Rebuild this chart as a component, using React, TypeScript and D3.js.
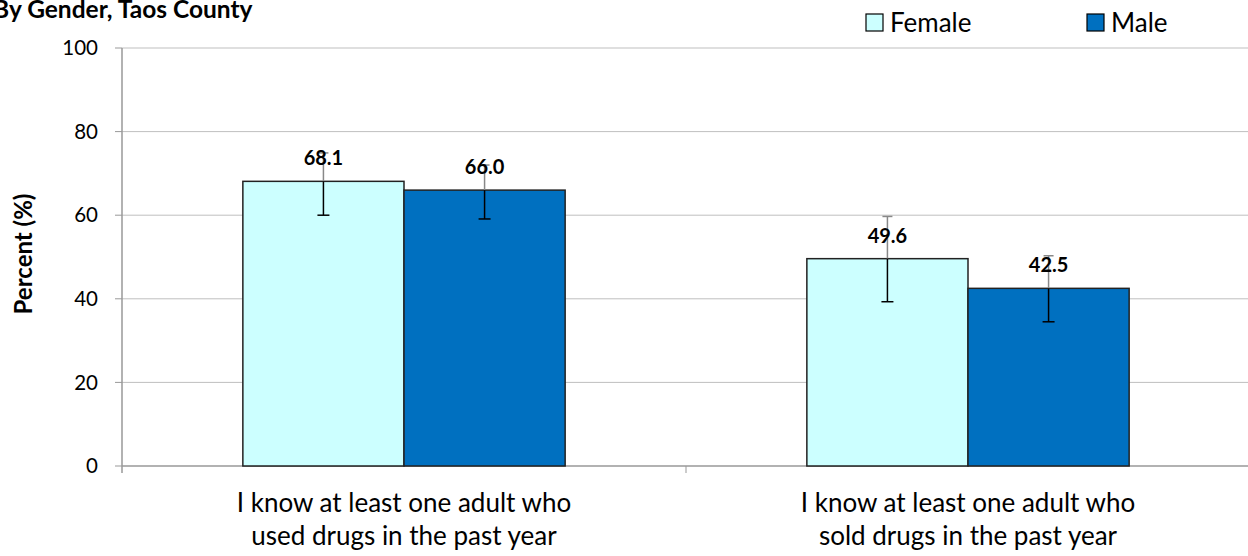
import React from "react";
import * as d3 from "d3";

const categories = [
  ["I know at least one adult who", "used drugs in the past year"],
  ["I know at least one adult who", "sold drugs in the past year"],
];
const seriesNames = ["Female", "Male"];
const seriesColors = ["#ccffff", "#0070c0"];
const femaleValues = [68.1, 49.6];
const maleValues = [66.0, 42.5];
const femaleLow = [60.0, 39.3];
const femaleHigh = [74.9, 59.7];
const maleLow = [59.1, 34.5];
const maleHigh = [72.0, 50.3];
const yTicks = [0, 20, 40, 60, 80, 100];
const title = "By Gender, Taos County";
const yTitle = "Percent (%)";

const W = 1248;
const H = 556;
const FONT = "Lato, 'Open Sans', sans-serif";

export default function App() {
  const left = 122;
  const right = 1250;
  const top = 48;
  const bottom = 466;
  const y = d3.scaleLinear().domain([0, 100]).range([bottom, top]);
  const x0 = d3.scaleBand<number>().domain([0, 1]).range([left, right]).paddingInner(0).paddingOuter(0);
  const inner = d3.scaleBand<number>().domain([0, 1]).range([0, x0.bandwidth()]).paddingOuter(0.75).paddingInner(0);

  const series = [
    { vals: femaleValues, lo: femaleLow, hi: femaleHigh },
    { vals: maleValues, lo: maleLow, hi: maleHigh },
  ];

  return (
    <svg width={W} height={H} style={{ display: "block", position: "absolute", left: 0, top: 0 }} fontFamily={FONT}>
      <rect width={W} height={H} fill="#fff" />
      <text x={-7} y={18} fontSize={24.5} fontWeight="bold" fill="#000">{title}</text>
      {yTicks.map((t) => (
        <g key={t}>
          {t > 0 && <line x1={left} x2={W} y1={y(t)} y2={y(t)} stroke="#bfbfbf" strokeWidth={1} />}
          <line x1={left - 7} x2={left} y1={y(t)} y2={y(t)} stroke="#999" strokeWidth={1} />
          <text x={98} y={y(t)} dy="0.35em" textAnchor="end" fontSize={20.5} fill="#000">{t}</text>
        </g>
      ))}
      <line x1={left} x2={left} y1={top} y2={bottom + 7} stroke="#999" strokeWidth={1.5} />
      <line x1={left} x2={W} y1={bottom} y2={bottom} stroke="#999" strokeWidth={1.5} />
      {[0, 1].map((i) => (
        <line key={i} x1={(x0(i) as number) + x0.bandwidth()} x2={(x0(i) as number) + x0.bandwidth()} y1={bottom} y2={bottom + 7} stroke="#999" strokeWidth={1} />
      ))}
      <text transform={`translate(32,${254}) rotate(-90)`} textAnchor="middle" fontSize={24} fontWeight="bold">{yTitle}</text>
      {[0, 1].map((ci) =>
        series.map((s, si) => {
          const bx = (x0(ci) as number) + (inner(si) as number);
          const bw = inner.bandwidth();
          return (
            <rect key={`${ci}-${si}`} x={bx} y={y(s.vals[ci])} width={bw} height={bottom - y(s.vals[ci])} fill={seriesColors[si]} stroke="#222" strokeWidth={1.5} />
          );
        })
      )}
      {[0, 1].map((ci) =>
        series.map((s, si) => {
          const bx = (x0(ci) as number) + (inner(si) as number);
          const bw = inner.bandwidth();
          const cx = bx + bw / 2;
          return (
            <g key={`e${ci}-${si}`}>
              <line x1={cx} x2={cx} y1={y(s.vals[ci])} y2={y(s.hi[ci])} stroke="#888" strokeWidth={1.5} />
              <line x1={cx - 5} x2={cx + 5} y1={y(s.hi[ci])} y2={y(s.hi[ci])} stroke="#888" strokeWidth={1.5} />
              <line x1={cx} x2={cx} y1={y(s.vals[ci])} y2={y(s.lo[ci])} stroke="#000" strokeWidth={1.5} />
              <line x1={cx - 6} x2={cx + 6} y1={y(s.lo[ci])} y2={y(s.lo[ci])} stroke="#000" strokeWidth={1.5} />
              <text x={cx} y={y(s.vals[ci]) - 16} textAnchor="middle" fontSize={20} fontWeight="bold" fill="#000">{s.vals[ci].toFixed(1)}</text>
            </g>
          );
        })
      )}
      {categories.map((lines, ci) => (
        <text key={ci} textAnchor="middle" fontSize={26} fill="#000">
          {lines.map((l, li) => (
            <tspan key={li} x={(x0(ci) as number) + x0.bandwidth() / 2} y={512 + li * 33}>{l}</tspan>
          ))}
        </text>
      ))}
      {seriesNames.map((n, i) => {
        const lx = [866, 1087][i];
        return (
          <g key={n}>
            <rect x={lx} y={14} width={17} height={17} fill={seriesColors[i]} stroke="#000" strokeWidth={1.2} />
            <text x={lx + 24} y={32} fontSize={26} fill="#000">{n}</text>
          </g>
        );
      })}
    </svg>
  );
}
